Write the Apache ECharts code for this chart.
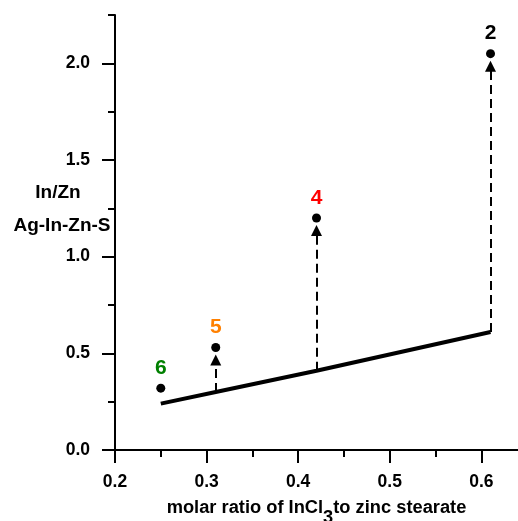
<!DOCTYPE html>
<html>
<head>
<meta charset="utf-8">
<script src="https://cdn.jsdelivr.net/npm/echarts@6/dist/echarts.min.js"></script>
<style>
  html, body { margin: 0; padding: 0; background: #fff; }
  #chart { width: 518px; height: 521px; }
</style>
</head>
<body>
<div id="chart"></div>
<script>
// Molar ratio of InCl3 to zinc stearate for each sample
const ratio = [0.25, 0.31, 0.42, 0.61];
// In/Zn measured in the Ag-In-Zn-S product
const inZnProduct = [0.32, 0.53, 1.20, 2.05];
// In/Zn of the precursor feed (solid line)
const inZnFeed = [0.24, 0.30, 0.41, 0.61];
// Sample numbers and their label colours
const sampleNames = ['6', '5', '4', '2'];
const sampleColors = ['#008000', '#ff8000', '#ff0000', '#000000'];
// Samples that get an arrow from the feed line up to the product value
const arrowSamples = [1, 2, 3];

// Axis ticks
const xMajorTicks = [0.2, 0.3, 0.4, 0.5, 0.6];
const xMinorTicks = [0.25, 0.35, 0.45, 0.55];
const yMajorTicks = [0.0, 0.5, 1.0, 1.5, 2.0];
const yMinorTicks = [0.25, 0.75, 1.25, 1.75, 2.25];

const FONT = '"Liberation Sans", Arial, sans-serif';
const ARROW_GAP = 0.065; // space between arrow head and the marker

const chart = echarts.init(document.getElementById('chart'), null, { renderer: 'canvas' });

const axisLine = { show: true, lineStyle: { color: '#000', width: 2 } };

const pointData = ratio.map((x, i) => ({
  value: [x, inZnProduct[i]],
  label: { color: sampleColors[i], formatter: sampleNames[i] }
}));

const arrowData = arrowSamples.map(i => ({
  coords: [[ratio[i], inZnFeed[i]], [ratio[i], inZnProduct[i] - ARROW_GAP]]
}));

chart.setOption({
  animation: false,
  backgroundColor: '#fff',
  grid: { left: 115, right: 0, top: 15, bottom: 71, containLabel: false, outerBoundsMode: 'none' },
  xAxis: [
    {
      type: 'value', min: 0.2, max: 0.64, position: 'bottom',
      axisLine: axisLine,
      axisTick: { show: true, length: 13, lineStyle: { color: '#000', width: 2 }, customValues: xMajorTicks },
      axisLabel: {
        customValues: xMajorTicks, margin: 23, color: '#000',
        fontFamily: FONT, fontWeight: 'bold', fontSize: 17.5,
        formatter: v => v.toFixed(1)
      },
      splitLine: { show: false },
      name: '{a|molar ratio of InCl}{s|3}{a|to zinc stearate}',
      nameLocation: 'middle', nameGap: 39,
      nameTextStyle: {
        rich: {
          a: { fontFamily: FONT, fontWeight: 'bold', fontSize: 18.3, color: '#000' },
          s: { fontFamily: FONT, fontWeight: 'bold', fontSize: 18.3, color: '#000', padding: [20, 0, 0, 0] }
        }
      }
    },
    {
      type: 'value', min: 0.2, max: 0.64, position: 'bottom',
      axisLine: { show: false },
      axisTick: { show: true, length: 7, lineStyle: { color: '#000', width: 2 }, customValues: xMinorTicks },
      axisLabel: { show: false },
      splitLine: { show: false }
    }
  ],
  yAxis: [
    {
      type: 'value', min: 0, max: 2.25, position: 'left',
      axisLine: axisLine,
      axisTick: { show: true, length: 13, lineStyle: { color: '#000', width: 2 }, customValues: yMajorTicks },
      axisLabel: {
        customValues: yMajorTicks, margin: 25, color: '#000',
        fontFamily: FONT, fontWeight: 'bold', fontSize: 17.5,
        formatter: v => v.toFixed(1)
      },
      splitLine: { show: false }
    },
    {
      type: 'value', min: 0, max: 2.25, position: 'left',
      axisLine: { show: false },
      axisTick: { show: true, length: 7, lineStyle: { color: '#000', width: 2 }, customValues: yMinorTicks },
      axisLabel: { show: false },
      splitLine: { show: false }
    }
  ],
  graphic: [
    {
      type: 'text', x: 58, y: 193, z: 10,
      style: { text: 'In/Zn', align: 'center', verticalAlign: 'middle',
               font: 'bold 19px ' + FONT, fill: '#000' }
    },
    {
      type: 'text', x: 62, y: 226, z: 10,
      style: { text: 'Ag-In-Zn-S', align: 'center', verticalAlign: 'middle',
               font: 'bold 19px ' + FONT, fill: '#000' }
    }
  ],
  series: [
    {
      name: 'feed',
      type: 'line',
      data: ratio.map((x, i) => [x, inZnFeed[i]]),
      symbol: 'none',
      lineStyle: { color: '#000', width: 4 },
      z: 3
    },
    {
      name: 'arrows',
      type: 'lines',
      coordinateSystem: 'cartesian2d',
      data: arrowData,
      symbol: ['none', 'triangle'],
      symbolSize: [0, 11],
      lineStyle: { color: '#000', width: 2, type: [9, 5], opacity: 1 },
      z: 2
    },
    {
      name: 'product',
      type: 'scatter',
      data: pointData,
      symbol: 'circle',
      symbolSize: 9,
      itemStyle: { color: '#000', opacity: 1 },
      label: {
        show: true, position: 'top', distance: 5, opacity: 1,
        fontFamily: FONT, fontWeight: 'bold', fontSize: 21
      },
      z: 4
    }
  ]
});
</script>
</body>
</html>
